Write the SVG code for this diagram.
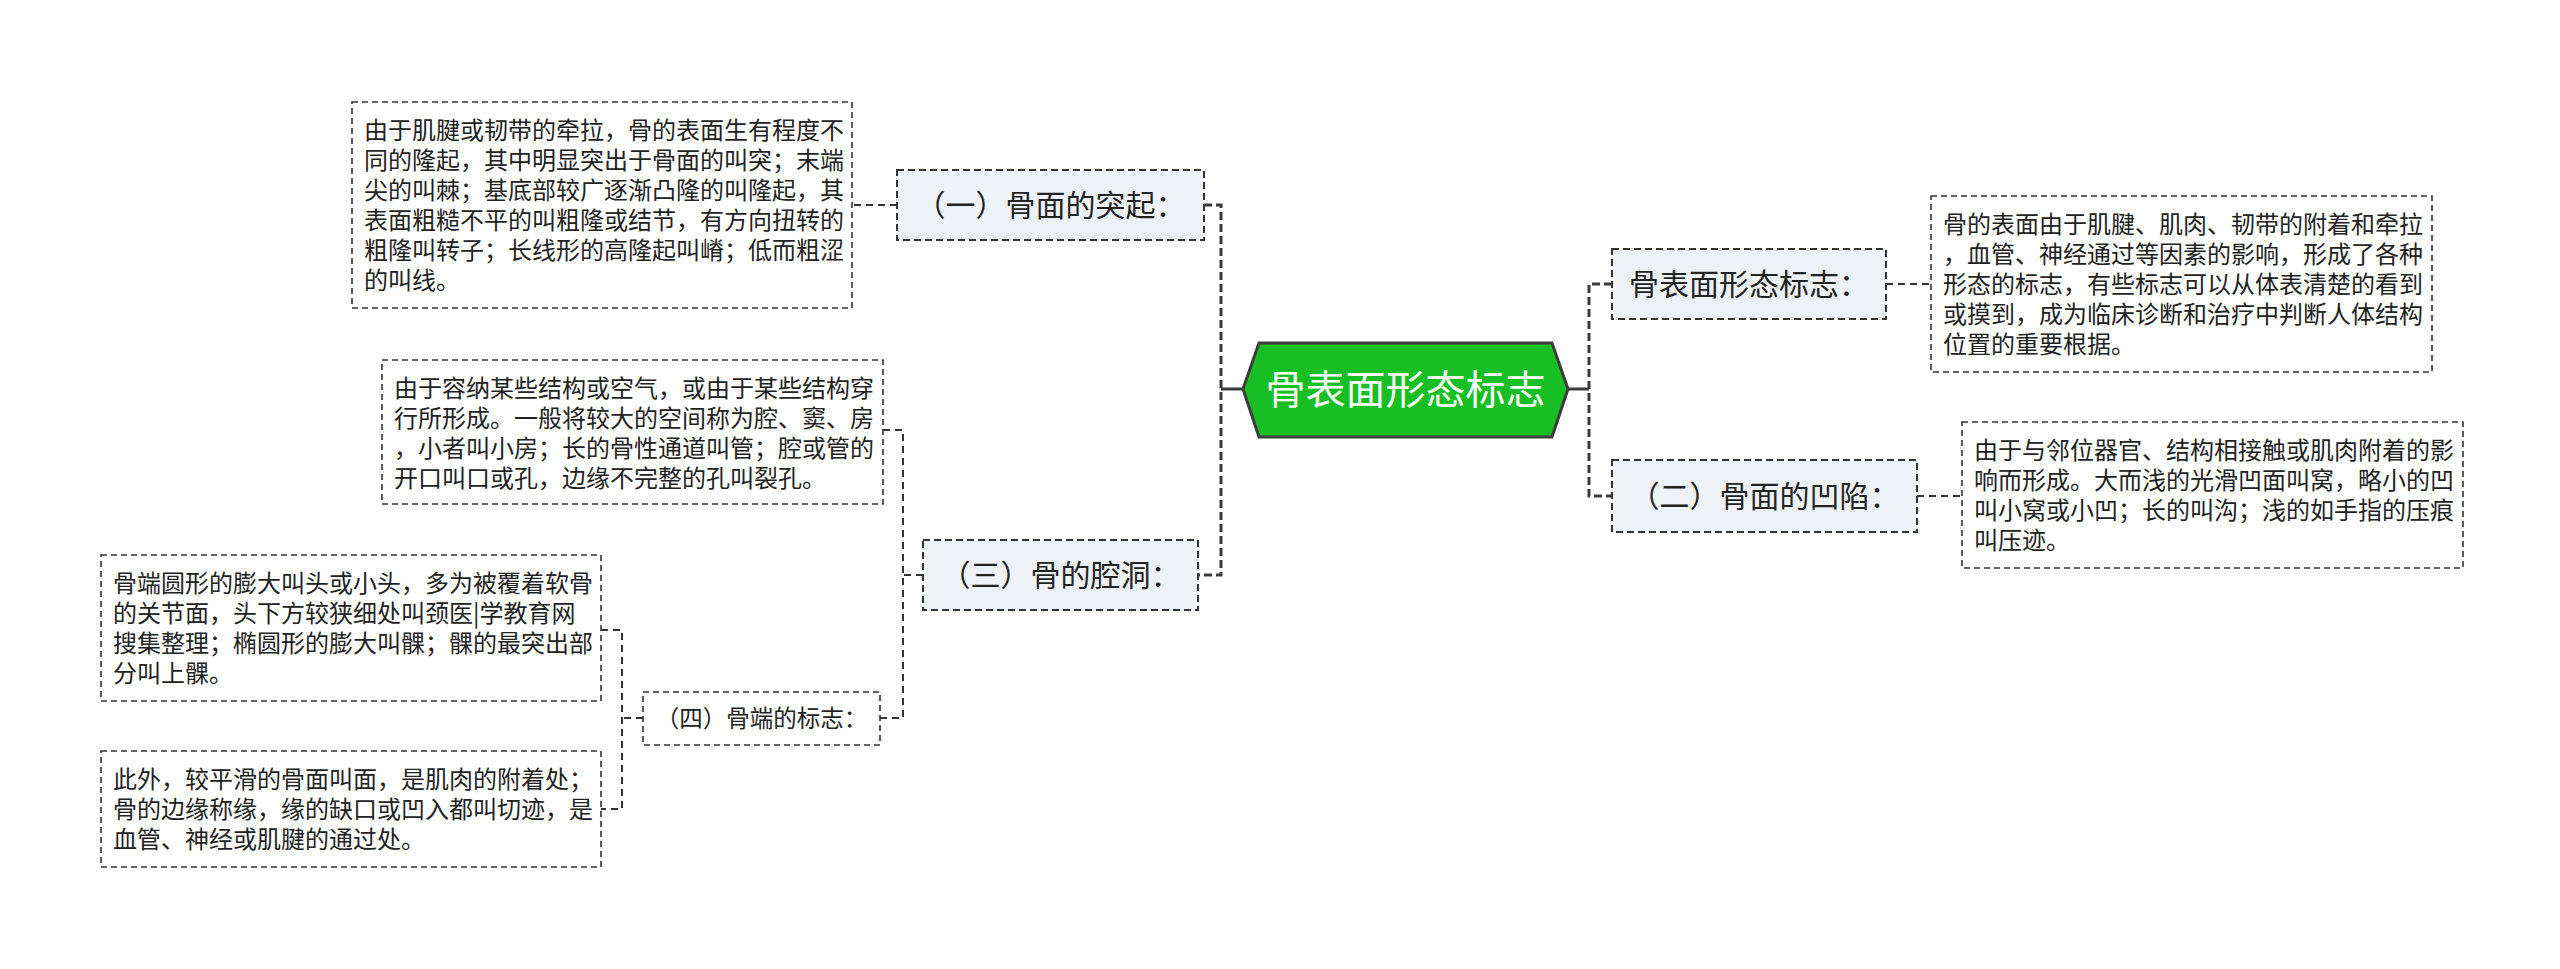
<svg xmlns="http://www.w3.org/2000/svg" width="2560" height="969" viewBox="0 0 2560 969">
<style>
  text { font-family: "Noto Sans CJK SC", "Noto Sans", sans-serif; }
  .main { fill: #ffffff; font-size: 40px; }
  .lbl { fill: #222222; font-size: 30px; }
  .lbl2 { fill: #222222; font-size: 23.5px; }
  .det { fill: #222222; font-size: 24px; }
  .nbox { fill: #eef1f5; stroke: #333333; stroke-width: 2; stroke-dasharray: 7 4; }
  .wbox { fill: #ffffff; stroke: #333333; stroke-width: 1.6; stroke-dasharray: 6 4; }
  .c1 { fill: none; stroke: #3a3a3a; stroke-width: 3; stroke-dasharray: 8 4; }
  .c0 { fill: none; stroke: #3a3a3a; stroke-width: 3; }
  .c2 { fill: none; stroke: #333333; stroke-width: 2; stroke-dasharray: 7 5; }
</style>
<rect x="0" y="0" width="2560" height="969" fill="#ffffff"/>

<g id="connectors">
  <path class="c0" d="M1243 389 H1221"/>
  <path class="c1" d="M1204 205 H1221 V575 H1198"/>
  <path class="c0" d="M1568 389 H1589"/>
  <path class="c1" d="M1612 284 H1589 V496 H1612"/>
  <path class="c2" d="M897 205 H852"/>
  <path class="c2" d="M1886 284 H1931"/>
  <path class="c2" d="M1917 496 H1962"/>
  <path class="c2" d="M923 575 H903"/>
  <path class="c2" d="M883 430 H903 V718 H880"/>
  <path class="c2" d="M643 718 H622"/>
  <path class="c2" d="M601 630 H622 V809 H601"/>
</g>

<g id="root">
  <polygon points="1243,389 1259,343 1552,343 1568,389 1552,437 1259,437" fill="#18bf24" stroke="#3d3d3d" stroke-width="3"/>
  <text class="main" x="1405.5" y="404" text-anchor="middle">骨表面形态标志</text>
</g>

<g id="n1">
  <rect class="nbox" x="897" y="170" width="307" height="70"/>
  <text class="lbl" x="1050.5" y="215.5" text-anchor="middle">（一）骨面的突起：</text>
</g>
<g id="d1">
  <rect class="wbox" x="352" y="102" width="500" height="206"/>
  <text class="det" x="364" y="138.5">由于肌腱或韧带的牵拉，骨的表面生有程度不</text>
  <text class="det" x="364" y="168.5">同的隆起，其中明显突出于骨面的叫突；末端</text>
  <text class="det" x="364" y="198.5">尖的叫棘；基底部较广逐渐凸隆的叫隆起，其</text>
  <text class="det" x="364" y="228.5">表面粗糙不平的叫粗隆或结节，有方向扭转的</text>
  <text class="det" x="364" y="258.5">粗隆叫转子；长线形的高隆起叫嵴；低而粗涩</text>
  <text class="det" x="364" y="288.5">的叫线。</text>
</g>

<g id="n3">
  <rect class="nbox" x="923" y="540" width="275" height="70"/>
  <text class="lbl" x="1060.5" y="585.5" text-anchor="middle">（三）骨的腔洞：</text>
</g>
<g id="d2">
  <rect class="wbox" x="382" y="360" width="501" height="144"/>
  <text class="det" x="394" y="396.5">由于容纳某些结构或空气，或由于某些结构穿</text>
  <text class="det" x="394" y="426.5">行所形成。一般将较大的空间称为腔、窦、房</text>
  <text class="det" x="394" y="456.5">，小者叫小房；长的骨性通道叫管；腔或管的</text>
  <text class="det" x="394" y="486.5">开口叫口或孔，边缘不完整的孔叫裂孔。</text>
</g>

<g id="n4">
  <rect class="wbox" x="643" y="692" width="237" height="53"/>
  <text class="lbl2" x="761.5" y="727" text-anchor="middle">（四）骨端的标志：</text>
</g>
<g id="d3">
  <rect class="wbox" x="101" y="555" width="500" height="146"/>
  <text class="det" x="113" y="591.5">骨端圆形的膨大叫头或小头，多为被覆着软骨</text>
  <text class="det" x="113" y="621.5">的关节面，头下方较狭细处叫颈医|学教育网</text>
  <text class="det" x="113" y="651.5">搜集整理；椭圆形的膨大叫髁；髁的最突出部</text>
  <text class="det" x="113" y="681.5">分叫上髁。</text>
</g>
<g id="d4">
  <rect class="wbox" x="101" y="751" width="500" height="116"/>
  <text class="det" x="113" y="787.5">此外，较平滑的骨面叫面，是肌肉的附着处；</text>
  <text class="det" x="113" y="817.5">骨的边缘称缘，缘的缺口或凹入都叫切迹，是</text>
  <text class="det" x="113" y="847.5">血管、神经或肌腱的通过处。</text>
</g>

<g id="n5">
  <rect class="nbox" x="1612" y="249" width="274" height="70"/>
  <text class="lbl" x="1749" y="294.5" text-anchor="middle">骨表面形态标志：</text>
</g>
<g id="d5">
  <rect class="wbox" x="1931" y="196" width="501" height="176"/>
  <text class="det" x="1943" y="232.5">骨的表面由于肌腱、肌肉、韧带的附着和牵拉</text>
  <text class="det" x="1943" y="262.5">，血管、神经通过等因素的影响，形成了各种</text>
  <text class="det" x="1943" y="292.5">形态的标志，有些标志可以从体表清楚的看到</text>
  <text class="det" x="1943" y="322.5">或摸到，成为临床诊断和治疗中判断人体结构</text>
  <text class="det" x="1943" y="352.5">位置的重要根据。</text>
</g>

<g id="n2">
  <rect class="nbox" x="1612" y="460" width="305" height="72"/>
  <text class="lbl" x="1764.5" y="506.5" text-anchor="middle">（二）骨面的凹陷：</text>
</g>
<g id="d6">
  <rect class="wbox" x="1962" y="422" width="501" height="146"/>
  <text class="det" x="1974" y="458.5">由于与邻位器官、结构相接触或肌肉附着的影</text>
  <text class="det" x="1974" y="488.5">响而形成。大而浅的光滑凹面叫窝，略小的凹</text>
  <text class="det" x="1974" y="518.5">叫小窝或小凹；长的叫沟；浅的如手指的压痕</text>
  <text class="det" x="1974" y="548.5">叫压迹。</text>
</g>
</svg>
